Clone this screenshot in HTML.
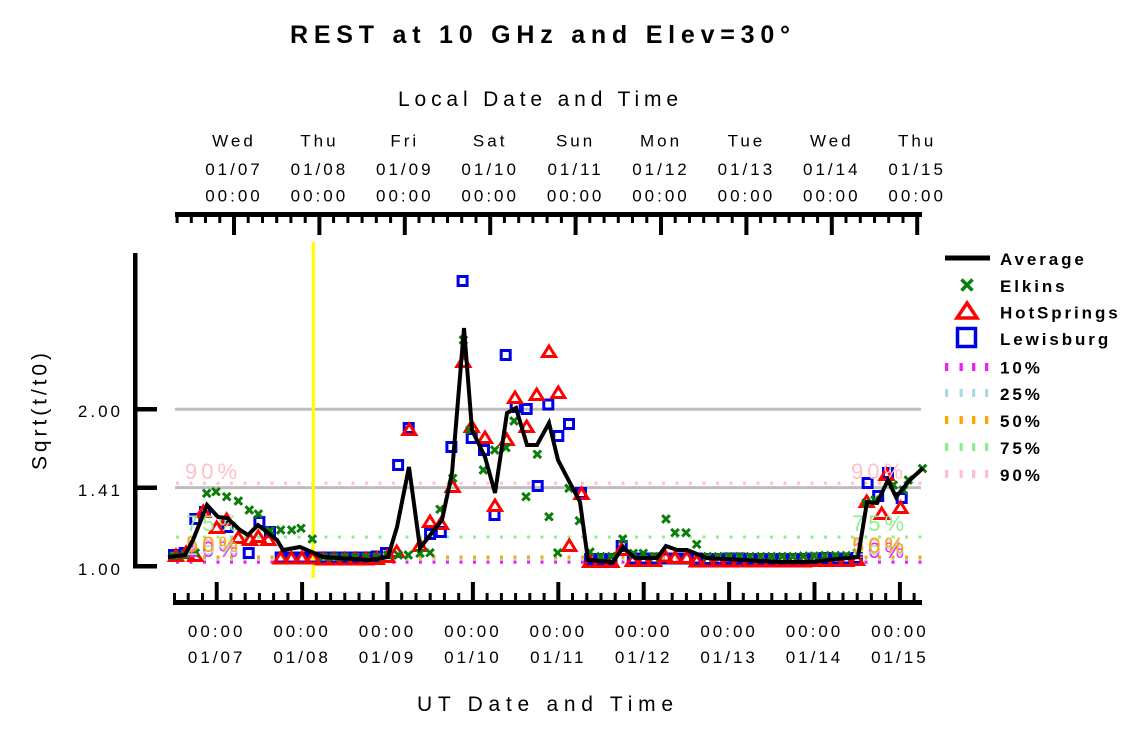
<!DOCTYPE html>
<html>
<head>
<meta charset="utf-8">
<style>
html,body{margin:0;padding:0;background:#fff;}
svg{display:block;}
text{font-family:"Liberation Sans",Arial,sans-serif;fill:#000;}
</style>
</head>
<body>
<svg width="1125" height="731" viewBox="0 0 1125 731" xmlns="http://www.w3.org/2000/svg">
<defs>
  <path id="tri" d="M0,-6 L6.5,4.5 L-6.5,4.5 Z" fill="none" stroke="#ff0000" stroke-width="3" stroke-linejoin="miter"/>
  <rect id="sq" x="-4.5" y="-4.5" width="9" height="9" fill="none" stroke="#0000e6" stroke-width="3"/>
  <path id="ex" d="M-3.8,-3.8 L3.8,3.8 M-3.8,3.8 L3.8,-3.8" stroke="#0a7d0a" stroke-width="3"/>
</defs>

<!-- Title -->
<text x="290" y="43" font-size="25" font-weight="bold" textLength="500" lengthAdjust="spacing">REST at 10 GHz and Elev=30°</text>
<text x="398" y="106" font-size="21" textLength="280" lengthAdjust="spacing">Local Date and Time</text>
<text x="417" y="711" font-size="21" textLength="256" lengthAdjust="spacing">UT Date and Time</text>
<text transform="translate(46.5,411.5) rotate(-90)" x="0" y="0" font-size="21" text-anchor="middle" textLength="117" lengthAdjust="spacing">Sqrt(t/t0)</text>

<!-- Top axis labels -->
<g font-size="17" letter-spacing="3" text-anchor="middle">
  <text x="234" y="146.5">Wed</text><text x="234" y="175">01/07</text><text x="234" y="201.5">00:00</text>
  <text x="319.4" y="146.5">Thu</text><text x="319.4" y="175">01/08</text><text x="319.4" y="201.5">00:00</text>
  <text x="404.8" y="146.5">Fri</text><text x="404.8" y="175">01/09</text><text x="404.8" y="201.5">00:00</text>
  <text x="490.2" y="146.5">Sat</text><text x="490.2" y="175">01/10</text><text x="490.2" y="201.5">00:00</text>
  <text x="575.6" y="146.5">Sun</text><text x="575.6" y="175">01/11</text><text x="575.6" y="201.5">00:00</text>
  <text x="661" y="146.5">Mon</text><text x="661" y="175">01/12</text><text x="661" y="201.5">00:00</text>
  <text x="746.4" y="146.5">Tue</text><text x="746.4" y="175">01/13</text><text x="746.4" y="201.5">00:00</text>
  <text x="831.8" y="146.5">Wed</text><text x="831.8" y="175">01/14</text><text x="831.8" y="201.5">00:00</text>
  <text x="917.2" y="146.5">Thu</text><text x="917.2" y="175">01/15</text><text x="917.2" y="201.5">00:00</text>
</g>

<!-- Bottom axis labels -->
<g font-size="17" letter-spacing="3" text-anchor="middle">
  <text x="216.7" y="637">00:00</text><text x="216.7" y="663">01/07</text>
  <text x="302.1" y="637">00:00</text><text x="302.1" y="663">01/08</text>
  <text x="387.5" y="637">00:00</text><text x="387.5" y="663">01/09</text>
  <text x="472.9" y="637">00:00</text><text x="472.9" y="663">01/10</text>
  <text x="558.3" y="637">00:00</text><text x="558.3" y="663">01/11</text>
  <text x="643.7" y="637">00:00</text><text x="643.7" y="663">01/12</text>
  <text x="729.1" y="637">00:00</text><text x="729.1" y="663">01/13</text>
  <text x="814.5" y="637">00:00</text><text x="814.5" y="663">01/14</text>
  <text x="899.9" y="637">00:00</text><text x="899.9" y="663">01/15</text>
</g>

<!-- Y tick labels -->
<g font-size="17" letter-spacing="3" text-anchor="end">
  <text x="123" y="417">2.00</text>
  <text x="123" y="496">1.41</text>
  <text x="123" y="575">1.00</text>
</g>

<!-- Top axis -->
<rect x="175" y="212" width="747" height="5" fill="#000"/>
<path fill="none" stroke="#000" stroke-width="3" d="M177.1,214V223 M191.3,214V223 M205.5,214V223 M219.8,214V223 M248.2,214V223 M262.5,214V223 M276.7,214V223 M290.9,214V223 M305.2,214V223 M333.6,214V223 M347.9,214V223 M362.1,214V223 M376.3,214V223 M390.6,214V223 M419,214V223 M433.3,214V223 M447.5,214V223 M461.7,214V223 M476,214V223 M504.4,214V223 M518.7,214V223 M532.9,214V223 M547.1,214V223 M561.4,214V223 M589.8,214V223 M604.1,214V223 M618.3,214V223 M632.5,214V223 M646.8,214V223 M675.2,214V223 M689.5,214V223 M703.7,214V223 M717.9,214V223 M732.2,214V223 M760.6,214V223 M774.9,214V223 M789.1,214V223 M803.3,214V223 M817.6,214V223 M846,214V223 M860.3,214V223 M874.5,214V223 M888.7,214V223 M903,214V223"/>
<path fill="none" stroke="#000" stroke-width="4" d="M234,214V235 M319.4,214V235 M404.8,214V235 M490.2,214V235 M575.6,214V235 M661,214V235 M746.4,214V235 M831.8,214V235 M917.2,214V235"/>

<!-- Bottom axis -->
<rect x="173" y="600" width="749" height="5" fill="#000"/>
<path fill="none" stroke="#000" stroke-width="3" d="M174.5,593V602 M188.2,593V602 M202.5,593V602 M230.9,593V602 M245.2,593V602 M259.4,593V602 M273.6,593V602 M287.9,593V602 M316.3,593V602 M330.6,593V602 M344.8,593V602 M359,593V602 M373.3,593V602 M401.7,593V602 M416,593V602 M430.2,593V602 M444.4,593V602 M458.7,593V602 M487.1,593V602 M501.4,593V602 M515.6,593V602 M529.8,593V602 M544.1,593V602 M572.5,593V602 M586.8,593V602 M601,593V602 M615.2,593V602 M629.5,593V602 M657.9,593V602 M672.2,593V602 M686.4,593V602 M700.6,593V602 M714.9,593V602 M743.3,593V602 M757.6,593V602 M771.8,593V602 M786,593V602 M800.3,593V602 M828.7,593V602 M843,593V602 M857.2,593V602 M871.4,593V602 M885.7,593V602 M914.1,593V602"/>
<path fill="none" stroke="#000" stroke-width="4" d="M216.7,582V602 M302.1,582V602 M387.5,582V602 M472.9,582V602 M558.3,582V602 M643.7,582V602 M729.1,582V602 M814.5,582V602 M899.9,582V602"/>

<!-- Left axis -->
<rect x="133" y="253" width="4.5" height="315" fill="#000"/>
<rect x="133" y="407" width="24" height="4.5" fill="#000"/>
<rect x="133" y="485.5" width="24" height="4.5" fill="#000"/>
<rect x="133" y="564" width="24" height="4.5" fill="#000"/>

<!-- Gray reference lines -->
<line x1="175" y1="409.3" x2="921" y2="409.3" stroke="#bebebe" stroke-width="3"/>
<line x1="175" y1="487.6" x2="921" y2="487.6" stroke="#bebebe" stroke-width="3"/>

<!-- Percentile dotted lines -->
<g stroke-width="3" stroke-dasharray="3 10.5" fill="none">
  <line x1="176" y1="483.3" x2="923" y2="483.3" stroke="#ffc0cb"/>
  <line x1="176" y1="537" x2="923" y2="537" stroke="#90ee90"/>
  <line x1="176" y1="560" x2="923" y2="560" stroke="#add8e6"/>
  <line x1="176" y1="557" x2="923" y2="557" stroke="#ffa500"/>
  <line x1="176" y1="562.3" x2="923" y2="562.3" stroke="#ee22ee"/>
</g>

<!-- Yellow vertical line -->
<line x1="313.3" y1="242" x2="313.3" y2="578" stroke="#ffff00" stroke-width="3.3"/>

<!-- Lewisburg squares -->
<g>
  <use href="#sq" x="174" y="555"/><use href="#sq" x="184.7" y="553"/><use href="#sq" x="195.3" y="519"/>
  <use href="#sq" x="205" y="512"/><use href="#sq" x="227.4" y="527"/><use href="#sq" x="248.7" y="553"/>
  <use href="#sq" x="259.4" y="522"/><use href="#sq" x="270" y="532"/>
  <use href="#sq" x="280.7" y="557.5"/><use href="#sq" x="291.4" y="557.5"/><use href="#sq" x="302" y="557.5"/>
  <use href="#sq" x="312.7" y="557.5"/><use href="#sq" x="323.4" y="557.5"/><use href="#sq" x="334.1" y="557.5"/>
  <use href="#sq" x="344.7" y="557.5"/><use href="#sq" x="355.4" y="557.5"/><use href="#sq" x="366.1" y="557.5"/>
  <use href="#sq" x="376.7" y="556.5"/><use href="#sq" x="386" y="553"/>
  <use href="#sq" x="398.1" y="465"/><use href="#sq" x="408.7" y="428"/><use href="#sq" x="430.1" y="534"/>
  <use href="#sq" x="440.8" y="532"/><use href="#sq" x="451.4" y="447"/><use href="#sq" x="462.6" y="281"/>
  <use href="#sq" x="471.7" y="438"/><use href="#sq" x="484" y="450"/><use href="#sq" x="494.5" y="515"/>
  <use href="#sq" x="505.7" y="355"/><use href="#sq" x="515.7" y="407"/><use href="#sq" x="526.7" y="409"/>
  <use href="#sq" x="537.7" y="486"/><use href="#sq" x="548.3" y="404.5"/><use href="#sq" x="558.3" y="436"/>
  <use href="#sq" x="569" y="424"/><use href="#sq" x="581" y="493"/>
  <use href="#sq" x="590.1" y="559"/><use href="#sq" x="600.8" y="559"/><use href="#sq" x="611.5" y="559"/>
  <use href="#sq" x="621.7" y="546"/><use href="#sq" x="632.8" y="558.5"/><use href="#sq" x="643.5" y="558.5"/>
  <use href="#sq" x="654.2" y="558.5"/><use href="#sq" x="664.8" y="558.5"/><use href="#sq" x="675.5" y="558.5"/>
  <use href="#sq" x="686.2" y="558.5"/><use href="#sq" x="696.8" y="558.5"/><use href="#sq" x="707.5" y="559"/>
  <use href="#sq" x="718.2" y="559"/><use href="#sq" x="728.8" y="558.5"/><use href="#sq" x="739.5" y="558.5"/>
  <use href="#sq" x="750.2" y="559"/><use href="#sq" x="760.9" y="559"/><use href="#sq" x="771.5" y="559"/>
  <use href="#sq" x="782.2" y="559"/><use href="#sq" x="792.9" y="559"/><use href="#sq" x="803.5" y="559"/>
  <use href="#sq" x="814.2" y="558.5"/><use href="#sq" x="824.9" y="558"/><use href="#sq" x="835.5" y="558.5"/>
  <use href="#sq" x="846.2" y="558.5"/><use href="#sq" x="856.9" y="558"/>
  <use href="#sq" x="867.6" y="483"/><use href="#sq" x="878.2" y="496"/><use href="#sq" x="888" y="473"/>
  <use href="#sq" x="901.7" y="498"/>
</g>

<!-- HotSprings triangles -->
<g>
  <use href="#tri" x="176" y="556"/><use href="#tri" x="186" y="553"/><use href="#tri" x="195.3" y="556"/>
  <use href="#tri" x="203.3" y="512"/><use href="#tri" x="216.7" y="528"/><use href="#tri" x="226.7" y="520"/>
  <use href="#tri" x="238.3" y="538"/><use href="#tri" x="250" y="540"/><use href="#tri" x="258.3" y="537"/>
  <use href="#tri" x="268.3" y="540"/>
  <use href="#tri" x="280.7" y="558.5"/><use href="#tri" x="291.4" y="558.5"/><use href="#tri" x="302" y="558.5"/>
  <use href="#tri" x="312.7" y="558.5"/><use href="#tri" x="323.4" y="559.5"/><use href="#tri" x="334.1" y="559.5"/>
  <use href="#tri" x="344.7" y="559.5"/><use href="#tri" x="355.4" y="559.5"/><use href="#tri" x="366.1" y="559.5"/>
  <use href="#tri" x="376.7" y="559"/><use href="#tri" x="387.4" y="557"/>
  <use href="#tri" x="396.7" y="552"/><use href="#tri" x="409.3" y="430"/><use href="#tri" x="420" y="546"/>
  <use href="#tri" x="430" y="522"/><use href="#tri" x="441" y="524"/><use href="#tri" x="452.7" y="487"/>
  <use href="#tri" x="463.3" y="362"/><use href="#tri" x="471.7" y="427"/><use href="#tri" x="485" y="438"/>
  <use href="#tri" x="495" y="506"/><use href="#tri" x="506.7" y="440"/><use href="#tri" x="515" y="398"/>
  <use href="#tri" x="526.7" y="427"/><use href="#tri" x="536.7" y="395"/><use href="#tri" x="549" y="352"/>
  <use href="#tri" x="558.3" y="393"/><use href="#tri" x="569.3" y="546"/><use href="#tri" x="581.5" y="494"/>
  <use href="#tri" x="590.1" y="562"/><use href="#tri" x="600.8" y="562"/><use href="#tri" x="611.5" y="562"/>
  <use href="#tri" x="621.7" y="550"/><use href="#tri" x="632.8" y="561"/><use href="#tri" x="643.5" y="561"/>
  <use href="#tri" x="654.2" y="561"/><use href="#tri" x="665" y="556.5"/><use href="#tri" x="675" y="558"/>
  <use href="#tri" x="686.7" y="558"/><use href="#tri" x="696.7" y="561.5"/><use href="#tri" x="707.5" y="561.5"/>
  <use href="#tri" x="718.2" y="561.5"/><use href="#tri" x="728.8" y="561.5"/><use href="#tri" x="739.5" y="561.5"/>
  <use href="#tri" x="750.2" y="561.5"/><use href="#tri" x="760.9" y="561.5"/><use href="#tri" x="771.5" y="561.5"/>
  <use href="#tri" x="782.2" y="561.5"/><use href="#tri" x="792.9" y="561.5"/><use href="#tri" x="803.5" y="561.5"/>
  <use href="#tri" x="814.2" y="561"/><use href="#tri" x="824.9" y="561"/><use href="#tri" x="835.5" y="561"/>
  <use href="#tri" x="846.2" y="561"/><use href="#tri" x="856.9" y="560"/>
  <use href="#tri" x="866.7" y="502"/><use href="#tri" x="881.7" y="514"/><use href="#tri" x="886.5" y="475"/>
  <use href="#tri" x="900.5" y="508"/>
</g>

<!-- Elkins x -->
<g>
  <use href="#ex" x="173.5" y="556"/><use href="#ex" x="185" y="555"/><use href="#ex" x="195.3" y="553"/>
  <use href="#ex" x="206.7" y="493.3"/><use href="#ex" x="216" y="491.7"/><use href="#ex" x="226.7" y="496.7"/>
  <use href="#ex" x="238.3" y="501"/><use href="#ex" x="249.3" y="510"/><use href="#ex" x="258.3" y="514"/>
  <use href="#ex" x="270" y="530.7"/><use href="#ex" x="280.7" y="530"/><use href="#ex" x="291.7" y="530"/>
  <use href="#ex" x="301" y="528.3"/><use href="#ex" x="312.3" y="539"/>
  <use href="#ex" x="323.4" y="557"/><use href="#ex" x="334.1" y="557"/><use href="#ex" x="344.7" y="557"/>
  <use href="#ex" x="355.4" y="557"/><use href="#ex" x="366.1" y="557"/><use href="#ex" x="376.7" y="557"/>
  <use href="#ex" x="387.4" y="555"/><use href="#ex" x="398.3" y="555"/><use href="#ex" x="408.3" y="555"/>
  <use href="#ex" x="420" y="553.3"/><use href="#ex" x="430" y="552.7"/><use href="#ex" x="440" y="509.3"/>
  <use href="#ex" x="452.7" y="478.3"/><use href="#ex" x="463.3" y="340"/><use href="#ex" x="470" y="430"/>
  <use href="#ex" x="483.3" y="470"/><use href="#ex" x="494.7" y="450"/><use href="#ex" x="506" y="447.7"/>
  <use href="#ex" x="514" y="421"/><use href="#ex" x="526" y="496.7"/><use href="#ex" x="537.3" y="454.3"/>
  <use href="#ex" x="549" y="516.7"/><use href="#ex" x="557.7" y="552.7"/><use href="#ex" x="569" y="488.3"/>
  <use href="#ex" x="579.3" y="520.7"/><use href="#ex" x="590" y="552"/>
  <use href="#ex" x="600.8" y="556.5"/><use href="#ex" x="611.5" y="556.5"/><use href="#ex" x="622.7" y="539"/>
  <use href="#ex" x="633.3" y="553.3"/><use href="#ex" x="643.3" y="553.3"/><use href="#ex" x="654.2" y="556.5"/>
  <use href="#ex" x="666" y="519"/><use href="#ex" x="675" y="532.7"/><use href="#ex" x="686" y="532.7"/>
  <use href="#ex" x="696.7" y="544.3"/><use href="#ex" x="707.5" y="556.5"/><use href="#ex" x="718.2" y="556.5"/>
  <use href="#ex" x="728.8" y="556.5"/><use href="#ex" x="739.5" y="556.5"/><use href="#ex" x="750.2" y="556.5"/>
  <use href="#ex" x="760.9" y="556.5"/><use href="#ex" x="771.5" y="556.5"/><use href="#ex" x="782.2" y="556.5"/>
  <use href="#ex" x="792.9" y="556.5"/><use href="#ex" x="803.5" y="556"/><use href="#ex" x="814.2" y="556"/>
  <use href="#ex" x="824.9" y="555.5"/><use href="#ex" x="835.5" y="555.5"/><use href="#ex" x="846.2" y="555.5"/>
  <use href="#ex" x="857" y="553"/><use href="#ex" x="866" y="503"/><use href="#ex" x="875" y="500"/>
  <use href="#ex" x="893.3" y="485"/><use href="#ex" x="903.3" y="490"/><use href="#ex" x="908.3" y="480"/>
  <use href="#ex" x="922.5" y="468.5"/>
</g>

<!-- Percentile labels (drawn over markers) -->
<g font-size="22" letter-spacing="4">
  <text x="186" y="557" style="fill:#ee22ee">10%</text>
  <text x="186" y="555" style="fill:#add8e6">25%</text>
  <text x="186" y="552" style="fill:#ffa500">50%</text>
  <text x="186" y="531" style="fill:#90ee90">75%</text>
  <text x="185" y="479" style="fill:#ffc0cb">90%</text>
  <text x="852" y="558" style="fill:#ee22ee">10%</text>
  <text x="852" y="555" style="fill:#add8e6">25%</text>
  <text x="852" y="553" style="fill:#ffa500">50%</text>
  <text x="852" y="531" style="fill:#90ee90">75%</text>
  <text x="851" y="479" style="fill:#ffc0cb">90%</text>
</g>

<!-- Average line -->
<polyline fill="none" stroke="#000" stroke-width="4" stroke-linejoin="miter" stroke-miterlimit="3"
 points="168,557 185,555 193,540 207,505 218,517 227,518 240,530 248,535 258,525 277,540 283,550 300,547 307,550 323,557 337,558 370,560 388,557 397,527 409,467 420,548 442,520 452,473 464,328 472,430 485,457 495,493 507,413 516,408 527,445 537,445 549,423 558,460 570,483 580,502 588,560 613,562 623,547 635,558 657,558 666,546 677,550 687,550 707,558 780,562 810,562 837,559 858,557 867,502 877,503 888,480 896,497 910,480 923,468"/>

<!-- Legend -->
<rect x="945" y="255.5" width="45" height="5" fill="#000"/>
<g transform="translate(967,285)"><path d="M-5.5,-5.5 L5.5,5.5 M-5.5,5.5 L5.5,-5.5" stroke="#0a7d0a" stroke-width="3.5"/></g>
<path d="M967,303 L977,318 L957,318 Z" fill="none" stroke="#ff0000" stroke-width="3.5"/>
<rect x="957.5" y="328.5" width="18" height="18" fill="none" stroke="#0000e6" stroke-width="3.5"/>
<g>
  <rect x="945" y="363" width="3.3" height="8" fill="#ee22ee"/><rect x="959.5" y="363" width="3.3" height="8" fill="#ee22ee"/><rect x="972" y="363" width="3.3" height="8" fill="#ee22ee"/><rect x="985" y="363" width="3.3" height="8" fill="#ee22ee"/>
  <rect x="945" y="389" width="3.3" height="8" fill="#add8e6"/><rect x="959.5" y="389" width="3.3" height="8" fill="#add8e6"/><rect x="972" y="389" width="3.3" height="8" fill="#add8e6"/><rect x="985" y="389" width="3.3" height="8" fill="#add8e6"/>
  <rect x="945" y="416" width="3.3" height="8" fill="#ffa500"/><rect x="959.5" y="416" width="3.3" height="8" fill="#ffa500"/><rect x="972" y="416" width="3.3" height="8" fill="#ffa500"/><rect x="985" y="416" width="3.3" height="8" fill="#ffa500"/>
  <rect x="945" y="443" width="3.3" height="8" fill="#90ee90"/><rect x="959.5" y="443" width="3.3" height="8" fill="#90ee90"/><rect x="972" y="443" width="3.3" height="8" fill="#90ee90"/><rect x="985" y="443" width="3.3" height="8" fill="#90ee90"/>
  <rect x="945" y="470" width="3.3" height="8" fill="#ffc0cb"/><rect x="959.5" y="470" width="3.3" height="8" fill="#ffc0cb"/><rect x="972" y="470" width="3.3" height="8" fill="#ffc0cb"/><rect x="985" y="470" width="3.3" height="8" fill="#ffc0cb"/>
</g>
<g font-size="17" font-weight="bold" letter-spacing="2.9">
  <text x="1000" y="265">Average</text>
  <text x="1000" y="292">Elkins</text>
  <text x="1000" y="318.5">HotSprings</text>
  <text x="1000" y="345">Lewisburg</text>
  <text x="1000" y="373.5">10%</text>
  <text x="1000" y="400">25%</text>
  <text x="1000" y="427">50%</text>
  <text x="1000" y="454">75%</text>
  <text x="1000" y="481">90%</text>
</g>
</svg>
</body>
</html>
